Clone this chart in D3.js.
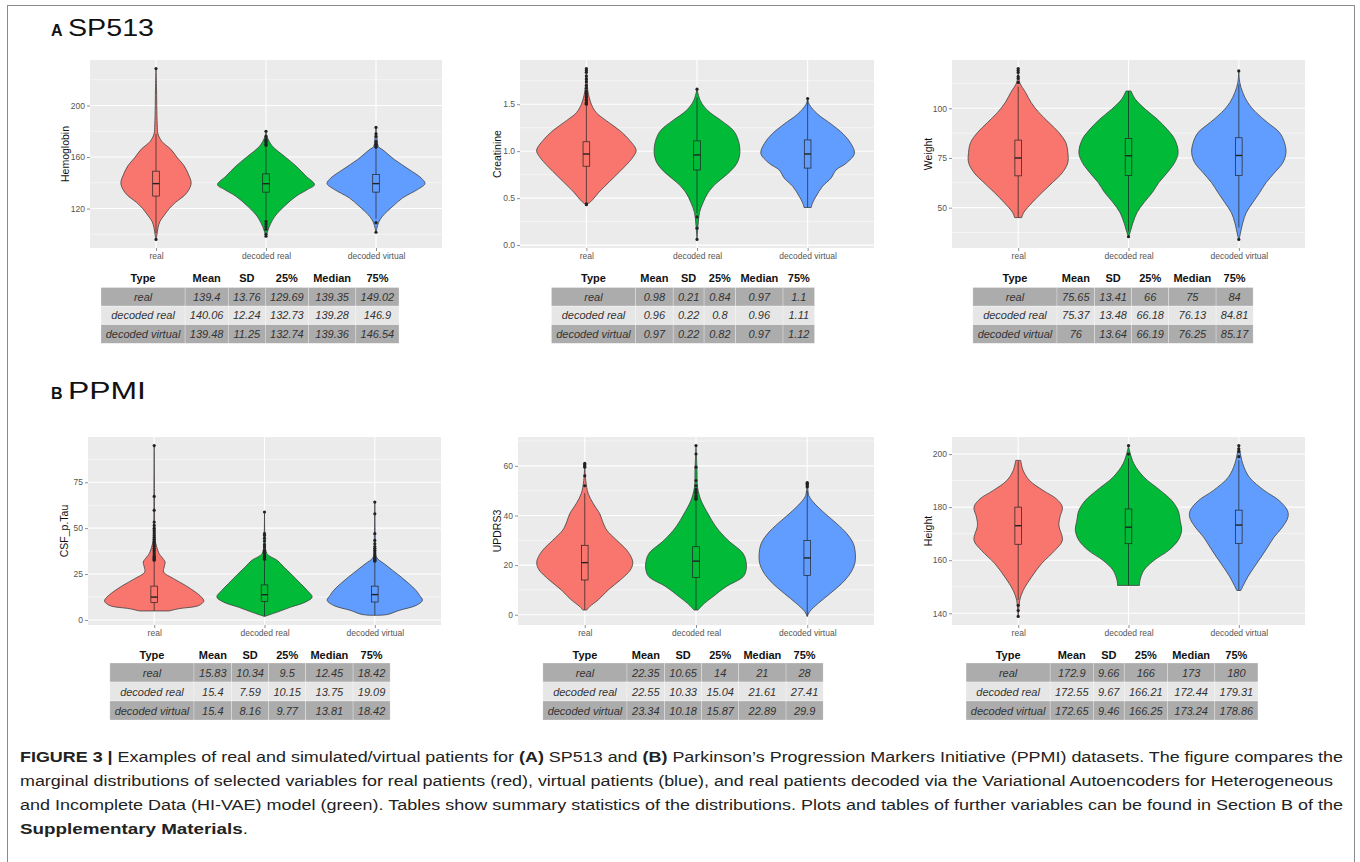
<!DOCTYPE html>
<html>
<head>
<meta charset="utf-8">
<script src="https://cdn.jsdelivr.net/npm/d3@7"></script>
<style>
  body { margin: 0; background: #fff; }
  svg text { font-family: "Liberation Sans", Arial, sans-serif; }
</style>
</head>
<body>
<svg id="fig" width="1360" height="862"></svg>
<script>
const groups = ['real', 'decoded real', 'decoded virtual'];
const groupColors = ['#F8766D', '#00BA38', '#619CFF'];
const tableHeader = ['Type', 'Mean', 'SD', '25%', 'Median', '75%'];

// density profiles are [value, relative width]
// stats rows: mean, sd, 25%, median, 75%

// --- SP513: Hemoglobin
const hemoTicks = [120, 160, 200];
const hemoDensity = [
  [[228.7,0],[215,0.01],[200,0.015],[185,0.025],[178,0.04],[172,0.12],[166,0.30],[160,0.42],[153,0.57],[147,0.65],[140,0.71],[135,0.67],[130,0.57],[125,0.40],[120,0.27],[115,0.17],[110,0.08],[105,0.04],[100,0.02],[96,0]],
  [[180,0],[175,0.03],[168.4,0.13],[160.6,0.37],[152.9,0.61],[145.1,0.81],[138.6,0.98],[134.8,0.84],[129.6,0.61],[121.8,0.37],[114,0.18],[106.3,0.07],[102,0.03],[98.5,0]],
  [[183,0],[175,0.02],[168,0.05],[165.8,0.13],[158.1,0.37],[150.3,0.67],[143.8,0.91],[139.4,0.99],[134.8,0.84],[128.3,0.54],[121.8,0.34],[114,0.13],[108.9,0.05],[101.6,0]]
];
const hemoWhiskers = [[101, 178], [111.5, 168], [112, 166]];
const hemoOutliers = [
  [228.7, 96],
  [169, 170, 171, 172, 173, 174, 176, 180, 110, 108, 106, 104, 100, 98.5],
  [167.5, 168.5, 169.5, 170, 172, 176, 178, 183, 109, 101.6]
];
const hemoStats = [
  [139.4, 13.76, 129.69, 139.35, 149.02],
  [140.06, 12.24, 132.73, 139.28, 146.9],
  [139.48, 11.25, 132.74, 139.36, 146.54]
];

// --- SP513: Creatinine
const creaTicks = [0, 0.5, 1.0, 1.5];
const creaDensity = [
  [[1.88,0],[1.75,0.015],[1.64,0.03],[1.5,0.1],[1.41,0.2],[1.325,0.4],[1.22,0.67],[1.115,0.87],[1.01,1.0],[0.94,0.94],[0.836,0.77],[0.73,0.57],[0.626,0.37],[0.556,0.24],[0.486,0.13],[0.45,0.06],[0.43,0]],
  [[1.66,0],[1.535,0.07],[1.43,0.22],[1.325,0.49],[1.22,0.73],[1.115,0.83],[0.976,0.86],[0.87,0.8],[0.766,0.63],[0.66,0.39],[0.556,0.22],[0.45,0.12],[0.346,0.05],[0.206,0.02],[0.06,0]],
  [[1.56,0],[1.5,0.03],[1.395,0.2],[1.29,0.47],[1.185,0.71],[1.08,0.87],[0.976,0.94],[0.87,0.77],[0.8,0.57],[0.713,0.47],[0.626,0.3],[0.52,0.17],[0.45,0.1],[0.4,0.07]]
];
const creaWhiskers = [[0.45, 1.49], [0.34, 1.57], [0.40, 1.55]];
const creaOutliers = [
  [1.5, 1.51, 1.52, 1.54, 1.55, 1.57, 1.58, 1.6, 1.62, 1.64, 1.67, 1.7, 1.74, 1.77, 1.8, 1.84, 1.86, 1.88, 0.43, 0.44],
  [1.66, 0.3, 0.18, 0.06],
  [1.56]
];
const creaStats = [
  [0.98, 0.21, 0.84, 0.97, 1.1],
  [0.96, 0.22, 0.8, 0.96, 1.11],
  [0.97, 0.22, 0.82, 0.97, 1.12]
];

// --- SP513: Weight
const weightTicks = [50, 75, 100];
const weightDensity = [
  [[120,0],[116,0.01],[112.9,0.03],[107.9,0.15],[102.9,0.26],[97.8,0.42],[92.8,0.62],[87.8,0.82],[82.7,0.96],[77.7,1.0],[72.7,1.0],[67.6,0.89],[62.6,0.69],[57.6,0.48],[52.5,0.28],[47.5,0.11],[45,0.07]],
  [[108.7,0.05],[104.5,0.14],[99.5,0.34],[94.5,0.58],[89.4,0.78],[84.4,0.93],[77.7,1.0],[72.7,0.93],[67.6,0.78],[62.6,0.61],[57.6,0.48],[52.5,0.31],[47.5,0.17],[42.4,0.09],[37.4,0.03],[35.4,0]],
  [[118.8,0],[112.9,0.02],[107.9,0.08],[102.9,0.18],[97.8,0.35],[92.8,0.58],[87.8,0.82],[82.7,0.92],[77.7,0.95],[72.7,0.89],[67.6,0.72],[62.6,0.55],[57.6,0.42],[52.5,0.28],[47.5,0.15],[42.4,0.08],[35.7,0.02],[34,0]]
];
const weightWhiskers = [[45, 111], [38, 108.5], [40, 112]];
const weightOutliers = [
  [113, 115, 116, 118, 119, 120],
  [35.4],
  [118.8, 34]
];
const weightStats = [
  [75.65, 13.41, 66, 75, 84],
  [75.37, 13.48, 66.18, 76.13, 84.81],
  [76, 13.64, 66.19, 76.25, 85.17]
];

// --- PPMI: CSF_p.Tau
const tauTicks = [0, 25, 50, 75];
const tauDensity = [
  [[95,0],[70,0.005],[50,0.01],[43.3,0.02],[36.1,0.1],[34.3,0.15],[31.5,0.22],[28.8,0.2],[26.1,0.19],[22.5,0.39],[18.8,0.63],[15.2,0.83],[12.5,0.95],[10.3,1.0],[7.9,0.9],[6.1,0.49],[4.9,0.3]],
  [[58.8,0],[45,0.01],[36.1,0.05],[32.4,0.26],[28.8,0.39],[25.2,0.53],[19.7,0.73],[16.1,0.86],[12.5,0.96],[9.8,0.83],[7.0,0.53],[4.3,0.26],[1.9,0]],
  [[64.2,0],[45,0.01],[34.3,0.03],[30.6,0.19],[27,0.36],[23.4,0.53],[19.7,0.69],[16.1,0.83],[13.4,0.9],[10.7,0.96],[7.9,0.83],[5.2,0.49],[3.0,0.26],[2.5,0]]
];
const tauWhiskers = [[4.9, 31.8], [2, 32.5], [2.5, 31.4]];
const tauOutliers = [
  [32.5, 33, 33.5, 34, 34.5, 35, 36, 37, 38, 39, 40, 41, 42, 43, 44, 45, 46, 47, 48, 49, 50, 51.5, 53.3, 59.7, 67.3, 95],
  [33, 33.5, 34, 34.5, 35, 36, 37, 38, 39.7, 41, 43, 44.5, 46, 47, 58.8],
  [32, 32.5, 33, 33.5, 34, 35, 36, 37, 38, 39, 40, 41.5, 43.3, 47, 57.8, 64.2]
];
const tauStats = [
  [15.83, 10.34, 9.5, 12.45, 18.42],
  [15.4, 7.59, 10.15, 13.75, 19.09],
  [15.4, 8.16, 9.77, 13.81, 18.42]
];

// --- PPMI: UPDRS3
const updrsTicks = [0, 20, 40, 60];
const updrsDensity = [
  [[61.2,0],[54.1,0.02],[48.8,0.07],[44.8,0.17],[40.7,0.3],[37.4,0.36],[34.1,0.44],[30,0.64],[26,0.84],[22.7,0.94],[20.7,0.96],[18,0.91],[14,0.71],[10,0.47],[6,0.27],[3.3,0.1],[1.9,0.04]],
  [[68.2,0],[58.2,0.02],[51.5,0.03],[46.1,0.1],[40.7,0.24],[35.4,0.4],[30,0.64],[24.7,0.94],[21.3,1.0],[18,1.0],[15.3,0.94],[11.3,0.6],[7.3,0.34],[4.6,0.17],[1.9,0.04]],
  [[53.3,0],[50,0.015],[48.1,0.03],[45.4,0.12],[40.7,0.36],[36.7,0.59],[32.7,0.79],[28.7,0.92],[24.7,0.96],[20.7,0.95],[16.7,0.86],[12.6,0.69],[8.6,0.46],[4.6,0.22],[1.3,0.05],[-0.7,0]]
];
const updrsWhiskers = [[2, 49], [2, 45.9], [-0.7, 50]];
const updrsOutliers = [
  [52, 56, 59.5, 60, 60.5, 61],
  [46.5, 47, 47.5, 48, 49, 49.5, 50.5, 52, 54.1, 59.5, 64.8, 68.2],
  [51.5, 52, 52.5, 53, 53.3]
];
const updrsStats = [
  [22.35, 10.65, 14, 21, 28],
  [22.55, 10.33, 15.04, 21.61, 27.41],
  [23.34, 10.18, 15.87, 22.89, 29.9]
];

// --- PPMI: Height
const heightTicks = [140, 160, 180, 200];
const heightDensity = [
  [[197.6,0.05],[193.8,0.1],[190,0.23],[186.3,0.5],[183.1,0.77],[180,0.89],[176.2,0.84],[173.1,0.82],[167.5,0.89],[163.7,0.74],[158.7,0.47],[153.7,0.27],[148.6,0.1],[144.9,0.03],[141.1,0.01],[138.8,0]],
  [[203.2,0],[201.3,0.02],[196.3,0.11],[191.3,0.31],[186.3,0.64],[182.5,0.87],[178.7,1.0],[175,1.04],[171.2,1.07],[167.5,1.0],[163.7,0.81],[159.9,0.51],[156.2,0.31],[152.4,0.23],[150.5,0.22]],
  [[203.2,0],[201.3,0.02],[196.3,0.08],[191.3,0.21],[186.3,0.51],[182.5,0.81],[178.7,0.98],[176.2,0.99],[172.5,0.88],[168.7,0.71],[164.9,0.58],[161.2,0.45],[157.4,0.31],[153.7,0.18],[150.5,0.09],[148.6,0.04]]
];
const heightWhiskers = [[145, 197.3], [150.5, 198.5], [148.6, 197.7]];
const heightOutliers = [
  [143, 141, 138.8],
  [200, 203.2],
  [199, 201, 202, 203.2]
];
const heightStats = [
  [172.9, 9.66, 166, 173, 180],
  [172.55, 9.67, 166.21, 172.44, 179.31],
  [172.65, 9.46, 166.25, 173.24, 178.86]
];

const variables = [
  { name: 'Hemoglobin', ticks: hemoTicks, fmt: 'd', density: hemoDensity, whiskers: hemoWhiskers, outliers: hemoOutliers, stats: hemoStats },
  { name: 'Creatinine', ticks: creaTicks, fmt: '.1f', density: creaDensity, whiskers: creaWhiskers, outliers: creaOutliers, stats: creaStats },
  { name: 'Weight', ticks: weightTicks, fmt: 'd', density: weightDensity, whiskers: weightWhiskers, outliers: weightOutliers, stats: weightStats },
  { name: 'CSF_p.Tau', ticks: tauTicks, fmt: 'd', density: tauDensity, whiskers: tauWhiskers, outliers: tauOutliers, stats: tauStats },
  { name: 'UPDRS3', ticks: updrsTicks, fmt: 'd', density: updrsDensity, whiskers: updrsWhiskers, outliers: updrsOutliers, stats: updrsStats },
  { name: 'Height', ticks: heightTicks, fmt: 'd', density: heightDensity, whiskers: heightWhiskers, outliers: heightOutliers, stats: heightStats }
];

// panel boxes and table placement
const rowA = { y0: 60, y1: 248, headY: 282, rowTop: 287.5, rowH: 18.6 };
const rowB = { y0: 437, y1: 625, headY: 659, rowTop: 663, rowH: 19 };
const layout = [
  { ...rowA, x0: 90,  x1: 442,  titleX: 65,  tableCx: 250 },
  { ...rowA, x0: 520, x1: 874,  titleX: 497, tableCx: 683 },
  { ...rowA, x0: 952, x1: 1305, titleX: 928, tableCx: 1113 },
  { ...rowB, x0: 88,  x1: 441,  titleX: 64,  tableCx: 250 },
  { ...rowB, x0: 518, x1: 874,  titleX: 497, tableCx: 683 },
  { ...rowB, x0: 952, x1: 1305, titleX: 928, tableCx: 1112 }
];

const svg = d3.select('#fig');

// outer frame
svg.append('rect')
  .attr('x', 7.5).attr('y', 5.5)
  .attr('width', 1347).attr('height', 870)
  .attr('fill', 'none').attr('stroke', '#8a8a8a');

// section headings
const headings = [['A', 'SP513', 36, 86], ['B', 'PPMI', 399, 78]];
headings.forEach(([letter, label, y, len]) => {
  svg.append('text').attr('x', 51).attr('y', y)
    .attr('font-size', 16).attr('font-weight', 'bold').attr('fill', '#111').text(letter);
  svg.append('text').attr('x', 68).attr('y', y)
    .attr('font-size', 24).attr('fill', '#111')
    .attr('textLength', len).attr('lengthAdjust', 'spacingAndGlyphs').text(label);
});

function drawPanel(v, L) {
  const g = svg.append('g');

  // ggplot-like 5% expansion of the data range
  const allVals = v.density.flat().map(p => p[0]).concat(v.outliers.flat());
  const [lo, hi] = d3.extent(allVals);
  const pad = (hi - lo) * 0.05;
  const y = d3.scaleLinear().domain([lo - pad, hi + pad]).range([L.y1, L.y0]);
  const x = d3.scalePoint().domain(groups).range([L.x0, L.x1]).padding(0.6);
  const w = d3.scaleLinear().domain([0, 1]).range([0, 0.45 * x.step()]);
  const boxW = 0.06 * x.step();

  g.append('rect')
    .attr('x', L.x0).attr('y', L.y0)
    .attr('width', L.x1 - L.x0).attr('height', L.y1 - L.y0)
    .attr('fill', '#ebebeb');

  // minor gridlines halfway between the major ticks
  const step = v.ticks[1] - v.ticks[0];
  const minor = [v.ticks[0] - step / 2, ...v.ticks.map(t => t + step / 2)]
    .filter(t => t > y.domain()[0] && t < y.domain()[1]);
  g.selectAll('.minor').data(minor).join('line')
    .attr('x1', L.x0).attr('x2', L.x1)
    .attr('y1', d => y(d)).attr('y2', d => y(d))
    .attr('stroke', '#fff').attr('stroke-width', 0.5);
  g.selectAll('.major').data(v.ticks).join('line')
    .attr('x1', L.x0).attr('x2', L.x1)
    .attr('y1', d => y(d)).attr('y2', d => y(d))
    .attr('stroke', '#fff').attr('stroke-width', 1.1);
  g.selectAll('.vgrid').data(groups).join('line')
    .attr('x1', d => x(d)).attr('x2', d => x(d))
    .attr('y1', L.y0).attr('y2', L.y1)
    .attr('stroke', '#fff').attr('stroke-width', 1.1);

  // violins
  groups.forEach((name, i) => {
    const cx = x(name);
    const area = d3.area()
      .y(d => y(d[0]))
      .x0(d => cx - w(d[1]))
      .x1(d => cx + w(d[1]))
      .curve(d3.curveCatmullRom.alpha(0.5));
    g.append('path')
      .datum(v.density[i])
      .attr('d', area)
      .attr('fill', groupColors[i])
      .attr('stroke', '#404040')
      .attr('stroke-width', 0.8);
  });

  // boxplots
  groups.forEach((name, i) => {
    const cx = x(name);
    const [, , q1, med, q3] = v.stats[i];
    const [wlo, whi] = v.whiskers[i];
    g.append('line').attr('x1', cx).attr('x2', cx)
      .attr('y1', y(q3)).attr('y2', y(whi))
      .attr('stroke', '#222').attr('stroke-width', 0.7);
    g.append('line').attr('x1', cx).attr('x2', cx)
      .attr('y1', y(q1)).attr('y2', y(wlo))
      .attr('stroke', '#222').attr('stroke-width', 0.7);
    g.append('rect')
      .attr('x', cx - boxW / 2).attr('y', y(q3))
      .attr('width', boxW).attr('height', y(q1) - y(q3))
      .attr('fill', groupColors[i])
      .attr('stroke', '#222').attr('stroke-width', 0.7);
    g.append('line')
      .attr('x1', cx - boxW / 2).attr('x2', cx + boxW / 2)
      .attr('y1', y(med)).attr('y2', y(med))
      .attr('stroke', '#222').attr('stroke-width', 1.4);
    g.selectAll(null).data(v.outliers[i]).join('circle')
      .attr('cx', cx).attr('cy', d => y(d))
      .attr('r', 1.6).attr('fill', '#222');
  });

  // axes
  const yAxis = g.append('g')
    .attr('transform', `translate(${L.x0},0)`)
    .call(d3.axisLeft(y).tickValues(v.ticks).tickFormat(d3.format(v.fmt)).tickSize(3).tickPadding(2));
  const xAxis = g.append('g')
    .attr('transform', `translate(0,${L.y1})`)
    .call(d3.axisBottom(x).tickSize(3).tickPadding(2));
  [yAxis, xAxis].forEach(ax => {
    ax.select('.domain').remove();
    ax.selectAll('line').attr('stroke', '#444').attr('stroke-width', 0.6);
    ax.selectAll('text').attr('fill', '#555').attr('font-size', 8.5)
      .attr('font-family', '"Liberation Sans", Arial, sans-serif');
  });

  g.append('text')
    .attr('transform', `translate(${L.titleX},${(L.y0 + L.y1) / 2}) rotate(-90)`)
    .attr('text-anchor', 'middle').attr('dy', '0.35em')
    .attr('font-size', 10.5).attr('fill', '#111')
    .text(v.name);
}

function measure(str, style) {
  const t = svg.append('text').attr('font-size', 11)
    .attr('font-weight', style === 'bold' ? 'bold' : 'normal')
    .attr('font-style', style === 'italic' ? 'italic' : 'normal')
    .text(str);
  const len = t.node().getComputedTextLength();
  t.remove();
  return len;
}

function drawTable(v, L) {
  const g = svg.append('g');
  const rows = groups.map((name, i) => [name, ...v.stats[i].map(String)]);
  const widths = tableHeader.map((h, c) =>
    Math.max(measure(h, 'bold'), ...rows.map(r => measure(r[c], 'italic'))) + 9.5);
  const total = d3.sum(widths);
  const left = L.tableCx - total / 2;
  const edges = [left, ...d3.cumsum(widths).map(s => left + s)];
  const centers = widths.map((wd, c) => edges[c] + wd / 2);
  const rowFill = ['#acacac', '#e6e6e6', '#acacac'];

  g.selectAll('.head').data(tableHeader).join('text')
    .attr('x', (d, c) => centers[c]).attr('y', L.headY)
    .attr('text-anchor', 'middle')
    .attr('font-size', 11).attr('font-weight', 'bold').attr('fill', '#111')
    .text(d => d);

  rows.forEach((r, ri) => {
    const top = L.rowTop + ri * L.rowH;
    r.forEach((cell, c) => {
      g.append('rect')
        .attr('x', edges[c]).attr('y', top)
        .attr('width', widths[c]).attr('height', L.rowH)
        .attr('fill', rowFill[ri])
        .attr('stroke', '#fff').attr('stroke-opacity', 0.45).attr('stroke-width', 0.6);
      g.append('text')
        .attr('x', centers[c]).attr('y', top + L.rowH / 2 + 4)
        .attr('text-anchor', 'middle')
        .attr('font-size', 11).attr('font-style', 'italic').attr('fill', '#333')
        .text(cell);
    });
  });
}

variables.forEach((v, k) => {
  drawPanel(v, layout[k]);
  drawTable(v, layout[k]);
});

// caption
const captionLines = [
  { y: 762, len: 1323, parts: [
    ['FIGURE 3 | ', true], ['Examples of real and simulated/virtual patients for ', false], ['(A)', true],
    [' SP513 and ', false], ['(B)', true],
    [' Parkinson\u2019s Progression Markers Initiative (PPMI) datasets. The figure compares the', false]] },
  { y: 786, len: 1313, parts: [
    ['marginal distributions of selected variables for real patients (red), virtual patients (blue), and real patients decoded via the Variational Autoencoders for Heterogeneous', false]] },
  { y: 810, len: 1323, parts: [
    ['and Incomplete Data (HI-VAE) model (green). Tables show summary statistics of the distributions. Plots and tables of further variables can be found in Section B of the', false]] },
  { y: 834, len: 228, parts: [['Supplementary Materials', true], ['.', false]] }
];
captionLines.forEach(line => {
  const t = svg.append('text')
    .attr('x', 20).attr('y', line.y)
    .attr('font-size', 15.5).attr('fill', '#222')
    .attr('textLength', line.len).attr('lengthAdjust', 'spacingAndGlyphs');
  line.parts.forEach(([str, bold]) => {
    t.append('tspan').attr('font-weight', bold ? 'bold' : 'normal').text(str);
  });
});
</script>
</body>
</html>
